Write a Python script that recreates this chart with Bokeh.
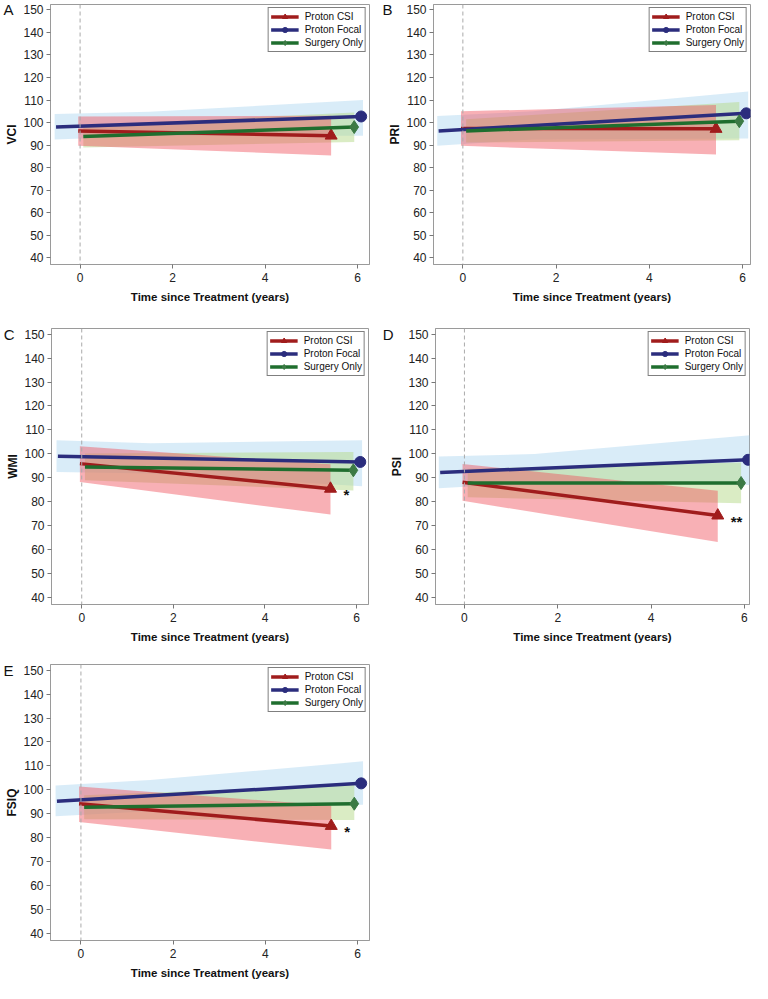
from bokeh.plotting import figure
from bokeh.layouts import column, row
from bokeh.models import Range1d, Span, Legend, LegendItem, FixedTicker, LinearAxis
from bokeh.embed import file_html
from bokeh.resources import INLINE
from bokeh.core.properties import value

# ---------------- data ----------------
panel_letters = ["A", "B", "C", "D", "E"]
y_labels = ["VCI", "PRI", "WMI", "PSI", "FSIQ"]
x_ticks = [0, 2, 4, 6]
y_ticks = [40, 50, 60, 70, 80, 90, 100, 110, 120, 130, 140, 150]
x_lo = [-0.64, -0.63, -0.66, -0.62, -0.66]
x_hi = [6.26, 6.17, 6.26, 6.11, 6.26]
y_lo, y_hi = 37.0, 152.4

series_names = ["Proton CSI", "Proton Focal", "Surgery Only"]

csi_time = [-0.04, 5.43]
csi_mean = [[96.2, 94.2], [97.4, 97.2], [95.9, 85.4], [88.1, 74.2], [94.2, 84.9]]
csi_lower = [[89.7, 85.4], [89.7, 85.8], [88.2, 74.6], [80.4, 63.1], [86.5, 75.0]]
csi_upper = [[102.7, 103.0], [105.0, 107.8], [103.2, 95.6], [95.7, 84.6], [101.4, 93.4]]

focal_time = [-0.52, 6.08]
focal_band_time = [-0.55, 1.5, 6.12]
focal_mean = [[98.0, 102.7], [96.3, 104.1], [99.0, 96.6], [92.2, 97.5], [95.2, 102.7]]
focal_lower = [[92.5, 94.0, 94.2], [89.7, 92.5, 92.9], [92.4, 91.8, 86.4],
               [85.6, 87.8, 87.0], [89.0, 91.0, 93.8]]
focal_upper = [[103.8, 104.8, 110.0], [102.9, 105.0, 113.8], [105.7, 104.4, 105.7],
               [98.9, 99.9, 107.8], [101.8, 104.1, 111.9]]

surgery_time = [0.07, 5.93]
surgery_mean = [[93.8, 98.0], [96.3, 100.6], [94.5, 93.1], [87.8, 87.8], [92.7, 94.2]]
surgery_lower = [[88.9, 91.4], [91.1, 92.1], [88.9, 84.7], [81.8, 79.3], [87.7, 87.4]]
surgery_upper = [[98.7, 104.5], [101.5, 109.1], [100.1, 100.8], [93.8, 96.4], [97.7, 102.1]]

significance = ["", "", "*", "**", "*"]

# ---------------- style ----------------
FONT = "Liberation Sans"
CSI_COLOR = "#a01c1c"
FOCAL_COLOR = "#2b2d7d"
SURG_COLOR = "#1f6e2e"
SURG_MARKER = "#3c7a45"
BLUE_BAND = "#9fd0ee"
GREEN_BAND = "#b5d98a"
RED_BAND = "#ef4f5a"
FRAME = "#9a9a9a"

# width, height, border left/right/top/bottom, letter standoff
geometry = [
    (376, 320, 38, 7, 4, 56, -11),
    (376, 320, 57, 2, 4, 56, -7),
    (376, 328, 38, 8, 8, 44, -11),
    (376, 328, 59, 3, 8, 44, -6),
    (376, 335, 38, 7, 16, 43, -11),
]


def make_panel(i):
    w, h, bl, br, bt, bb, letter_standoff = geometry[i]
    p = figure(width=w, height=h, output_backend="svg", toolbar_location=None, tools="",
               x_range=Range1d(x_lo[i], x_hi[i]), y_range=Range1d(y_lo, y_hi),
               min_border_left=bl, min_border_right=br, min_border_top=bt,
               min_border_bottom=bb)
    p.xgrid.visible = False
    p.ygrid.visible = False
    p.outline_line_color = FRAME
    p.outline_line_width = 1
    p.background_fill_color = "white"
    p.border_fill_color = "white"

    p.xaxis.ticker = FixedTicker(ticks=x_ticks)
    p.yaxis.ticker = FixedTicker(ticks=y_ticks)
    p.xaxis.axis_label = "Time since Treatment (years)"
    p.yaxis.axis_label = y_labels[i]
    for ax in (p.xaxis, p.yaxis):
        ax.axis_label_text_font = FONT
        ax.axis_label_text_font_style = "bold"
        ax.axis_label_text_color = "#111111"
        ax.major_label_text_font = FONT
        ax.major_label_text_font_size = "12px"
        ax.major_label_text_color = "#222222"
        ax.axis_line_color = FRAME
        ax.major_tick_line_color = "#777777"
        ax.major_tick_out = 4
        ax.major_tick_in = 0
        ax.minor_tick_line_color = None
    p.xaxis.axis_label_text_font_size = "11.5px"
    p.yaxis.axis_label_text_font_size = "12px"
    p.xaxis.major_label_standoff = 4
    p.xaxis.axis_label_standoff = 6
    p.yaxis.major_label_standoff = 3
    p.yaxis.axis_label_standoff = 1

    # panel letter, drawn as the single label of an extra outer left axis
    letter_axis = LinearAxis(ticker=FixedTicker(ticks=y_ticks[-1:]),
                             major_label_overrides={y_ticks[-1]: panel_letters[i]},
                             axis_line_color=None, major_tick_line_color=None,
                             minor_tick_line_color=None, major_tick_out=0, major_tick_in=0,
                             major_label_text_font=FONT, major_label_text_font_size="15px",
                             major_label_text_color="#111111",
                             major_label_standoff=letter_standoff)
    p.add_layout(letter_axis, "left")

    # confidence bands
    p.varea(x=focal_band_time, y1=focal_lower[i], y2=focal_upper[i],
            fill_color=BLUE_BAND, fill_alpha=0.4)
    p.varea(x=surgery_time, y1=surgery_lower[i], y2=surgery_upper[i],
            fill_color=GREEN_BAND, fill_alpha=0.5)
    p.varea(x=csi_time, y1=csi_lower[i], y2=csi_upper[i],
            fill_color=RED_BAND, fill_alpha=0.45)

    p.add_layout(Span(location=0, dimension="height", line_color="#aaaaaa",
                      line_dash="4 3", line_width=1))

    # trajectories
    l_csi = p.line(x=csi_time, y=csi_mean[i], line_color=CSI_COLOR, line_width=3.5)
    m_csi = p.scatter(x=csi_time[-1:], y=csi_mean[i][-1:], marker="triangle", size=12,
                      fill_color=CSI_COLOR, line_color=CSI_COLOR)
    l_foc = p.line(x=focal_time, y=focal_mean[i], line_color=FOCAL_COLOR, line_width=3.5)
    m_foc = p.scatter(x=focal_time[-1:], y=focal_mean[i][-1:], marker="circle", size=11,
                      fill_color=FOCAL_COLOR, line_color=FOCAL_COLOR)
    l_sur = p.line(x=surgery_time, y=surgery_mean[i], line_color=SURG_COLOR, line_width=3.5)
    m_sur = p.scatter(x=surgery_time[-1:], y=surgery_mean[i][-1:], marker="diamond", size=13,
                      fill_color=SURG_MARKER, line_color=SURG_MARKER)

    if significance[i]:
        p.text(x=csi_time[-1:], y=csi_mean[i][-1:], text=[significance[i]],
               text_font=value(FONT), text_font_size="15px", text_font_style="bold",
               text_color="#111111", text_align="left", text_baseline="middle",
               x_offset=13, y_offset=6)

    legend = Legend(items=[
        LegendItem(label=series_names[0], renderers=[l_csi, m_csi]),
        LegendItem(label=series_names[1], renderers=[l_foc, m_foc]),
        LegendItem(label=series_names[2], renderers=[l_sur, m_sur]),
    ], location="top_right")
    legend.label_text_font = FONT
    legend.label_text_font_size = "10px"
    legend.label_text_color = "#111111"
    legend.glyph_width = 28
    legend.glyph_height = 13
    legend.label_height = 13
    legend.spacing = 0
    legend.padding = 2
    legend.margin = 3
    legend.label_standoff = 6
    legend.border_line_color = "black"
    legend.border_line_width = 1.5
    legend.background_fill_color = "white"
    legend.background_fill_alpha = 1.0
    p.add_layout(legend)
    return p


panels = [make_panel(i) for i in range(5)]
layout = column(row(panels[0], panels[1]), row(panels[2], panels[3]), row(panels[4]))

open("out.html", "w").write(file_html(layout, INLINE))
